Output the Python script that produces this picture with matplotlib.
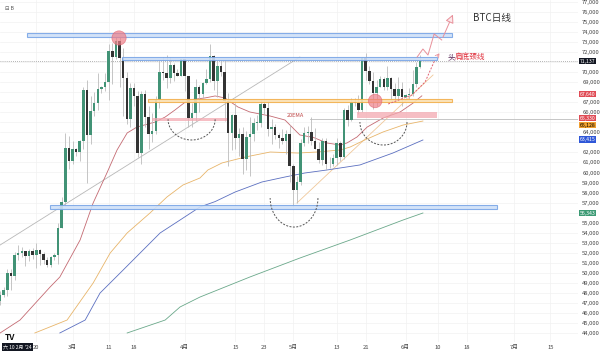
import matplotlib
matplotlib.use('Agg')
import matplotlib.pyplot as plt
import numpy as np
import pandas as pd
from matplotlib.patches import Rectangle
from matplotlib.ticker import FuncFormatter

plt.rcParams['font.family'] = ['Noto Sans CJK SC', 'DejaVu Sans']

# BTC 日线 2024-02-10 .. 2024-06-05
dates = pd.date_range('2024-02-10', '2024-06-05', freq='D')

closes = [
    # Feb
    47770, 48290, 49960, 49700, 51800, 51940, 52130, 51650, 52140, 51780,
    52280, 51840, 51300, 50740, 51570, 51730, 54480, 57040, 62430, 61130,
    # Mar
    62390, 62030, 63130, 68250, 63780, 66100, 66930, 68300, 68500, 69020,
    72100, 71480, 73100, 71400, 69400, 65300, 68400, 67600, 61900, 67850,
    65500, 63800, 64100, 67200, 70000, 69900, 69450, 70750, 69900, 69650, 71300,
    # Apr
    69650, 65450, 65950, 68500, 67850, 68900, 69350, 71600, 69150, 70600,
    70000, 67100, 63900, 65700, 63400, 63800, 61300, 63500, 63800, 64950,
    64950, 66850, 66400, 64300, 64500, 63750, 63400, 63100, 63850, 60600,
    # May
    58250, 59100, 62900, 63900, 64000, 63150, 62300, 61200, 63100, 60800,
    60800, 61450, 62900, 61550, 66250, 65250, 67050, 66950, 66250, 71450,
    70150, 69150, 67950, 68550, 69300, 68500, 69400, 68350, 67650, 68350, 67500,
    # Jun
    67750, 67790, 68800, 70550, 71137,
]
highs = [
    48170, 48550, 50330, 50370, 52040, 52820, 52570, 52200, 52350, 52480,
    52990, 52380, 52040, 51540, 51700, 51950, 54940, 57550, 63910, 63670,
    63160, 62430, 63200, 68500, 69200, 67600, 67980, 69950, 68630, 69920,
    72800, 72900, 73650, 73780, 72400, 70000, 68900, 68900, 68100, 68100,
    68200, 66650, 65950, 67600, 71100, 71500, 71700, 71500, 70900, 70300, 71300,
    71300, 69650, 66900, 69300, 68700, 69000, 70300, 72800, 71750, 71200,
    71250, 71200, 67900, 65800, 66900, 64400, 64500, 64100, 65500, 65400,
    65700, 67250, 67200, 67100, 65300, 64800, 63900, 64350, 64200, 64700,
    60800, 59600, 63300, 64500, 64600, 65500, 64400, 63000, 63400, 63450,
    61500, 61800, 63450, 63100, 66450, 66700, 67450, 67400, 67700, 71500,
    71950, 70650, 70050, 69250, 69600, 69500, 70600, 69550, 68900, 69500, 69000,
    67850, 68450, 70250, 71050, 71750,
]
lows = [
    46800, 47550, 47700, 48300, 49300, 51300, 51600, 50650, 51170, 51350,
    50520, 50800, 50900, 50540, 50580, 51280, 50900, 54450, 56700, 60360,
    60800, 61680, 61100, 62300, 59000, 62800, 65600, 66200, 67900, 68100,
    67200, 68800, 71330, 68500, 65600, 64800, 64500, 66600, 61500, 60800,
    64500, 62300, 63000, 63800, 66400, 69200, 68400, 68900, 69100, 69600, 69600,
    68100, 64500, 64500, 65100, 66000, 67450, 68800, 69050, 68200, 67500,
    69600, 65100, 60600, 62200, 62300, 61600, 59800, 60200, 59600, 63100,
    64250, 64500, 65850, 63600, 62800, 63300, 62400, 62800, 61800, 59100,
    56550, 56950, 58800, 62600, 62900, 62700, 62300, 60900, 60700, 60200,
    60450, 60650, 60750, 61150, 61300, 64600, 65100, 66600, 65850, 66050,
    69200, 68850, 66300, 66650, 68500, 68200, 68250, 67250, 67100, 67150, 66650,
    67400, 67300, 67600, 68550, 70400,
]
opens = [47150] + closes[:-1]

# moving averages (days from 1 Mar, price)
ema20_d = [-20, -14.5, -6.2, -3.5, 2.1, 5.7, 9.5, 12.3, 15.1, 17.8, 22.8, 25.6, 28.3, 31.9,
           36.6, 39.4, 42.1, 45.7, 49.0, 54.6, 58.7, 62.8, 66.5, 70.3, 73.9, 75.8, 78.6,
           81.4, 85.8, 90.5, 94.0, 96.5]
ema20_p = [44000, 45290, 48580, 49580, 53270, 56960, 59950, 62240, 63940, 64530, 65030, 65530,
           66230, 67230, 67430, 67630, 67430, 66530, 66030, 65630, 65230, 63740, 63500, 62940,
           62740, 62940, 63540, 64530, 65430, 66030, 66900, 67640]
ema50_d = [-10.4, -1.5, 5.7, 10.4, 15.1, 21.4, 26.1, 30.5, 35.2, 37.4, 41.3, 47.7, 54.6,
           62.3, 67.5, 73.9, 76.7, 80.5, 85.8, 91.3, 96.8]
ema50_p = [44000, 45290, 48980, 51970, 53970, 55960, 57560, 58750, 59450, 60250, 60950, 61540,
           62040, 61940, 62040, 62240, 62540, 63200, 64040, 64730, 65130]
ema100_d = [-3.5, 3.5, 7.6, 14.0, 19.5, 24.2, 29.7, 35.2, 39.4, 44.9, 52.3, 58.7, 64.2,
            70.3, 79.4, 88.5, 96.8]
ema100_p = [44000, 45290, 47980, 50280, 52270, 53970, 55260, 56560, 57100, 58050, 59050, 59550,
            59950, 60250, 60750, 61940, 63240]
ema200_d = [15.1, 25.6, 29.7, 35.2, 49.0, 62.8, 76.7, 91.3, 96.8]
ema200_p = [44000, 45290, 46590, 47580, 49580, 51470, 53270, 55260, 55960]

# drawn zones: (day start, day end, price low, price high)
blue_zones = [(-12.6, 104.8, 73500, 73900), (13.7, 100.7, 71260, 71560), (-6.2, 117.3, 56360, 56760)]
orange_zone = (20.9, 104.8, 67000, 67300)
pink_zones = [(78.6, 100.7, 65430, 66030), (22.0, 42.7, 65180, 65480)]
last_price = 71137
ray_level = (65.6, 65330)

# head & shoulders arcs: (day start, day end, top, bottom)
arcs = [(26.4, 39.4, 65300, 63240), (54.6, 67.8, 57450, 54560), (79.4, 92.4, 65030, 62740)]

# axis labels on the right
price_tags = [
    ("71,137", 71110, '#131722', 'white'),
    ("67,640", 67820, '#e04b55', 'white'),
    ("65,330", 65420, '#e04b55', 'white'),
    ("65,128", 64720, '#f0a030', 'black'),
    ("63,415", 63290, '#2f57d8', 'white'),
    ("56,343", 55960, '#3c9a74', 'white'),
]
hidden_ticks = [71000, 68000, 65000, 63000, 56000]

x_tick_d = [-10, 0, 10, 17, 31, 45, 53, 61, 73, 81, 92, 101, 109, 122, 132]
x_tick_lbl = ['20', '3月', '11', '18', '4月', '15', '23', '5月', '13', '21', '6月', '10', '18', '7月', '15']

day = np.array((dates - pd.Timestamp('2024-03-01')).days, dtype=float)
o = np.array(opens, dtype=float)
h = np.array(highs, dtype=float)
l = np.array(lows, dtype=float)
c = np.array(closes, dtype=float)


def price_fmt(v, pos):
    if int(round(v)) in hidden_ticks:
        return ''
    return '{:,.0f}'.format(v)


fig = plt.figure(figsize=(6, 3.54), dpi=100)
ax = fig.add_axes([0, 12 / 354, 578 / 600, 342 / 354])
ax.set_xlim(-20.03, 139.64)
ax.set_ylim(43100, 77196)

for s in ax.spines.values():
    s.set_visible(False)
ax.yaxis.tick_right()
ax.set_yticks(range(44000, 77001, 1000))
ax.yaxis.set_major_formatter(FuncFormatter(price_fmt))
ax.set_xticks(x_tick_d)
ax.set_xticklabels(x_tick_lbl)
ax.tick_params(axis='both', length=0, labelsize=4.2, colors='#444444')
ax.tick_params(axis='y', pad=3)
ax.tick_params(axis='x', pad=2)
ax.grid(color='#f2f2f2', lw=0.5)
ax.set_axisbelow(True)

# trend lines
ax.plot([-20, 62.8], [52770, 71510], color='#b8b8b8', lw=0.6, zorder=1)
ax.plot([62.0, 99.6], [56960, 69720], color='#f0c89a', lw=0.6, zorder=1)

# EMAs
ax.plot(ema200_d, ema200_p, color='#6aa88a', lw=0.6, zorder=2)
ax.plot(ema100_d, ema100_p, color='#5b6fc0', lw=0.6, zorder=2)
ax.plot(ema50_d, ema50_p, color='#e8b56a', lw=0.6, zorder=2)
ax.plot(ema20_d, ema20_p, color='#c46a72', lw=0.6, zorder=2)

# candles
up = c >= o
ax.vlines(day, l, h, color='#bcbcbc', lw=0.6, zorder=3)
body = np.maximum(np.abs(c - o), 60)
ax.bar(day, body, bottom=np.minimum(o, c), width=0.7,
       color=np.where(up, '#429376', '#333333'), lw=0, zorder=4)

# zones
for d0, d1, p0, p1 in blue_zones:
    ax.add_patch(Rectangle((d0, p0), d1 - d0, p1 - p0, fc='#cfe0f8', ec='#7aa6e6',
                           lw=0.8, alpha=0.9, zorder=5))
d0, d1, p0, p1 = orange_zone
ax.add_patch(Rectangle((d0, p0), d1 - d0, p1 - p0, fc='#fbe2b5', ec='#f2b04e',
                       lw=0.8, alpha=0.9, zorder=5))
for d0, d1, p0, p1 in pink_zones:
    ax.add_patch(Rectangle((d0, p0), d1 - d0, p1 - p0, fc='#f3a9b1', ec='none',
                           alpha=0.75, zorder=5))

ax.axhline(last_price, color='#9a9a9a', lw=0.6, ls=(0, (1, 1.5)), zorder=2)
ax.plot([ray_level[0], 139.64], [ray_level[1], ray_level[1]], color='#bdbdbd', lw=0.6, zorder=2)

# arcs
t = np.linspace(0, np.pi, 50)
for d0, d1, top, bot in arcs:
    xs = (d0 + d1) / 2 + (d1 - d0) / 2 * np.cos(t)
    ys = top - (top - bot) * np.sin(t)
    ax.plot(xs, ys, color='#555555', lw=0.7, ls=(0, (2, 1.5)), zorder=6)

# circles
ax.scatter([12.85, 83.6], [73410, 67130], s=[105, 95], color='#ee7f88', alpha=0.7,
           edgecolors='#e06070', linewidths=0.5, zorder=7)

# projected path
ax.plot([87.2, 93.8, 97.4, 100.1], [66830, 67730, 69020, 71210], color='#e06070',
        lw=0.7, ls=(0, (2, 1.5)), zorder=7)
zz_d = [95.2, 96.8, 98.2, 99.9, 102.0]
zz_p = [71510, 72310, 71710, 73810, 73210]
ax.plot(zz_d, zz_p, color='#e8909a', lw=0.7, zorder=7)
ax.annotate('', xy=(105.4, 76000), xytext=(102.0, 73210),
            arrowprops=dict(arrowstyle='-|>,head_length=0.5,head_width=0.25',
                            fc='#fde8ea', ec='#e8909a', lw=0.7), zorder=7)
ax.annotate('', xy=(101.8, 72100), xytext=(100.3, 71350),
            arrowprops=dict(arrowstyle='->,head_length=0.25,head_width=0.15',
                            color='#e8909a', lw=0.6), zorder=7)

# texts
ax.text(110.6, 75400, 'BTC日线', fontsize=7, color='#333333', va='center', ha='left')
neck = ax.text(103.5, 71510, '头', fontsize=5.5, color='#5a2a5a', va='center', ha='left')
ax.annotate('肩底颈线', xy=(1, 0.5), xycoords=neck, xytext=(0, 0), textcoords='offset points',
            fontsize=5.5, color='#e0303c', va='center', ha='left')
ax.text(59.2, 65730, '20EMA', fontsize=4, color='#c04848', va='center', ha='left')

for txt, p, fc, tc in price_tags:
    ax.text(1.003, p, txt, transform=ax.get_yaxis_transform(), fontsize=3.7, color=tc,
            va='center', ha='left', clip_on=False,
            bbox=dict(boxstyle='square,pad=0.15', fc=fc, ec='none'), zorder=10)

fig.text(5 / 600, 1 - 337 / 354, 'TV', fontsize=6, weight='bold', color='#111111',
         va='center', ha='left')
fig.text(3 / 600, 1 - 347 / 354, "六 10 2月 '24", fontsize=3.6, color='white',
         va='center', ha='left', bbox=dict(boxstyle='square,pad=0.3', fc='#131722', ec='none'))
fig.text(5 / 600, 1 - 8 / 354, '⊟ B', fontsize=3.8, color='#555555', va='center', ha='left')

plt.savefig('out.png', dpi=100)
plt.close()
